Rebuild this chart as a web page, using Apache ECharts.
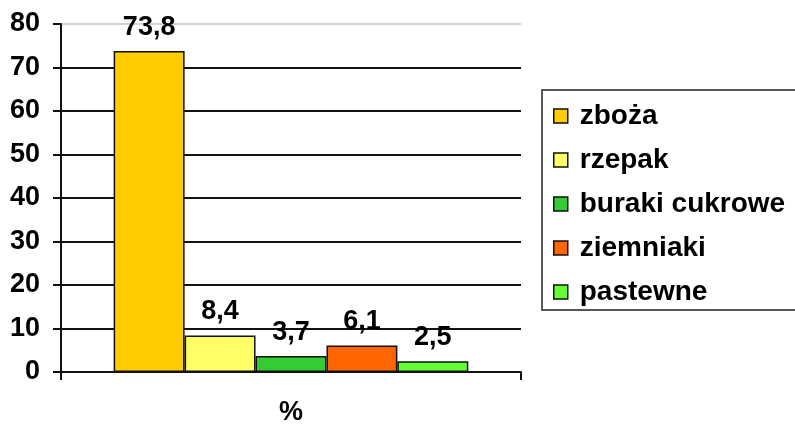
<!DOCTYPE html>
<html>
<head>
<meta charset="utf-8">
<script src="https://cdn.jsdelivr.net/npm/echarts@6/dist/echarts.min.js"></script>
<style>
  html, body { margin: 0; padding: 0; background: #fff; }
  #chart { width: 795px; height: 426px; }
</style>
</head>
<body>
<div id="chart"></div>
<script>
// Udział upraw w powierzchni zasiewów (%)
const categories = ['%'];
const seriesNames = ['zboża', 'rzepak', 'buraki cukrowe', 'ziemniaki', 'pastewne'];
const seriesValues = [73.8, 8.4, 3.7, 6.1, 2.5];
const seriesColors = ['#FFCC00', '#FFFF66', '#33CC33', '#FF6600', '#66FF33'];
const yTicks = { min: 0, max: 80, interval: 10 };

const font = 'Liberation Sans, Arial, sans-serif';
const fontSize = 27;

const series = seriesNames.map((name, i) => ({
  name: name,
  type: 'bar',
  data: [seriesValues[i]],
  barGap: '0%',
  barCategoryGap: '22.9%',
  itemStyle: { color: seriesColors[i], borderColor: '#111', borderWidth: 1.5 },
  label: {
    show: true,
    position: 'top',
    distance: 10,
    color: '#000',
    fontFamily: font,
    fontWeight: 'bold',
    fontSize: fontSize,
    formatter: p => String(p.value).replace('.', ',')
  },
  emphasis: { disabled: true }
}));

const chart = echarts.init(document.getElementById('chart'), null, { renderer: 'canvas' });
chart.setOption({
  animation: false,
  backgroundColor: '#fff',
  grid: { left: 61, right: 274, top: 24, bottom: 50, containLabel: false },
  xAxis: {
    type: 'category',
    data: categories,
    axisLine: { lineStyle: { color: '#111', width: 2 } },
    axisTick: { show: true, length: 8, lineStyle: { color: '#111', width: 2 } },
    axisLabel: { color: '#000', fontFamily: font, fontWeight: 'bold', fontSize: fontSize, margin: 27 },
    splitLine: { show: false }
  },
  yAxis: {
    type: 'value',
    min: yTicks.min,
    max: yTicks.max,
    interval: yTicks.interval,
    axisLine: { show: true, lineStyle: { color: '#111', width: 2 } },
    axisTick: { show: true, length: 8, lineStyle: { color: '#111', width: 2 } },
    axisLabel: { color: '#000', fontFamily: font, fontWeight: 'bold', fontSize: fontSize, margin: 21 },
    splitLine: {
      show: true,
      lineStyle: { color: ['#111', '#111', '#111', '#111', '#111', '#111', '#111', '#111', '#d4d4d4'], width: 2 }
    }
  },
  legend: {
    orient: 'vertical',
    left: 542,
    top: 90,
    padding: [12, 40, 4, 11],
    itemGap: 16,
    itemWidth: 14,
    itemHeight: 14,
    icon: 'rect',
    borderColor: '#222',
    borderWidth: 1.5,
    itemStyle: { borderColor: '#111', borderWidth: 1.5 },
    textStyle: {
      color: '#000', fontFamily: font, fontWeight: 'bold', fontSize: 28,
      lineHeight: 27, padding: [0, 0, 0, 7]
    },
    data: seriesNames,
    selectedMode: false
  },
  series: series
});
</script>
</body>
</html>
